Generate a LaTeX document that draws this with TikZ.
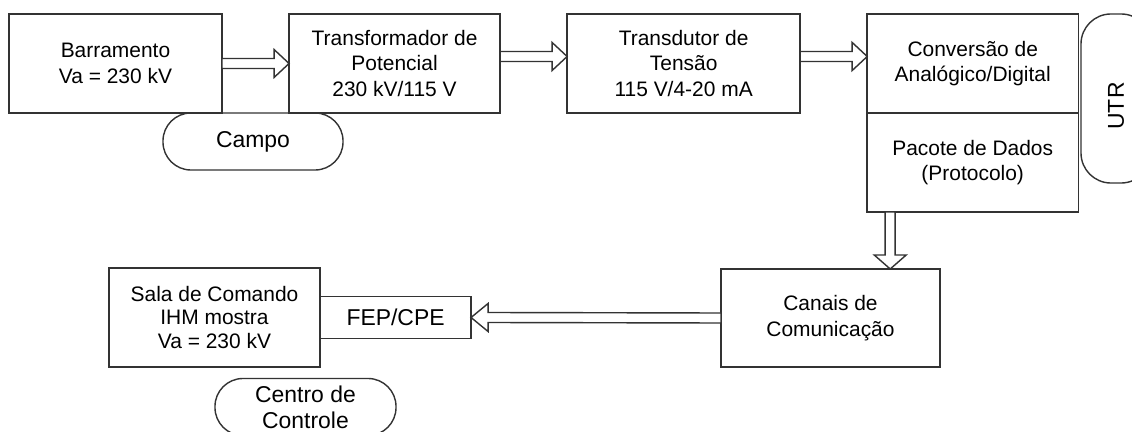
\documentclass[tikz,border=0pt]{standalone}
\usepackage{fontspec}
\setmainfont{Liberation Sans}
\usetikzlibrary{positioning, calc}
\tikzset{
  block/.style={rectangle, minimum height=2.475cm, inner sep=0pt, outer sep=0pt, text centered, align=center, draw=black!80, line width=1pt, font=\fontsize{14.9}{18.3}\selectfont},
  terminal/.style={rectangle, rounded corners=0.7cm, minimum height=1.425cm, inner sep=0pt, outer sep=0pt, text centered, align=center, draw=black!80, line width=1pt, font=\fontsize{16.3}{18.5}\selectfont},
  hollow/.style={draw=black!80, line width=1pt, fill=white},
  hollowright/.style={hollow, to path={($(\tikztostart)+(0,5)$) -- ($(\tikztotarget)+(-15,5)$) -- ($(\tikztotarget)+(-15,14)$) -- (\tikztotarget) -- ($(\tikztotarget)+(-15,-14)$) -- ($(\tikztotarget)+(-15,-5)$) -- ($(\tikztostart)+(0,-5)$) -- cycle}},
  hollowdown/.style={hollow, to path={($(\tikztostart)+(-5,0)$) -- ($(\tikztotarget)+(-5,-14)$) -- ($(\tikztotarget)+(-16,-14)$) -- (\tikztotarget) -- ($(\tikztotarget)+(16,-14)$) -- ($(\tikztotarget)+(5,-14)$) -- ($(\tikztostart)+(5,0)$) -- cycle}},
  hollowleft/.style={hollow, to path={($(\tikztostart)+(0,5)$) -- ($(\tikztotarget)+(17,5)$) -- ($(\tikztotarget)+(17,14)$) -- (\tikztotarget) -- ($(\tikztotarget)+(17,-14)$) -- ($(\tikztotarget)+(17,-5)$) -- ($(\tikztostart)+(0,-5)$) -- cycle}}
}

\begin{document}
\begin{tikzpicture}[
            x=0.025cm, y=-0.025cm,
            node distance=1.675cm
        ]
            \useasboundingbox (0,0) rectangle (1132,432);
            \clip (0,0) rectangle (1132,432);

            % --- Blocos ---
            \node (barramento) [block, minimum width=5.325cm] at (115.5,63.5) {Barramento\\ Va = 230 kV};
            \node (tp) [block, right=of barramento, minimum width=5.275cm] {Transformador de\\ Potencial\\ 230 kV/115 V};
            \node (transdutor) [block, right=of tp, minimum width=5.825cm] {Transdutor de\\ Tensão\\ 115 V/4-20 mA};
            \node (conversao) [block, right=of transdutor, minimum width=5.275cm] {Conversão de\\ Analógico/Digital};
            \node (pacote) [block, below=0pt of conversao, minimum width=5.275cm] {Pacote de Dados\\ (Protocolo)};
            \node (utr) [terminal, rotate=90, minimum width=4.225cm, minimum height=1.75cm, rounded corners=0.75cm] at (1116,98.5) {\hspace*{-0.375cm}UTR};
            \node (campo) [terminal, minimum width=4.5cm] at (253,141.5) {Campo};

            \node (canais) [block, minimum width=5.475cm, minimum height=2.45cm] at (830.5,318) {Canais de\\ Comunicação};
            \node (sala) [block, minimum width=5.275cm, font=\fontsize{14.9}{17}\selectfont] at (214.5,317.5) {Sala de Comando\\ IHM mostra\\ Va = 230 kV};
            \node (fep) [block, right=0pt of sala, minimum width=3.775cm, minimum height=1.05cm, font=\fontsize{16.3}{18.5}\selectfont] {FEP/CPE};
            \node (centro) [terminal, minimum width=4.525cm] at (305.5,407) {Centro de\\ Controle};

            % --- Conexões ---
            \coordinate (s2) at ([yshift=0.175cm]tp.east);
            \coordinate (s3) at ([yshift=0.175cm]transdutor.east);
            \coordinate (s4) at ($(pacote.south west)+(23,0)$);

            \draw [hollowright] (barramento.east) to (tp.west);
            \draw [hollowright] (s2) to (s2 -| transdutor.west);
            \draw [hollowright] (s3) to (s3 -| conversao.west);
            \draw [hollowdown] (s4) to (s4 |- canais.north);
            \draw [hollowleft] (canais.west) to (fep.east);

        \end{tikzpicture}
\end{document}
